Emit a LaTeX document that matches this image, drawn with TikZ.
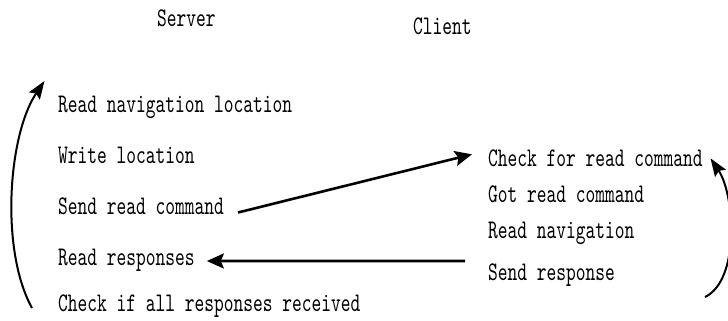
\documentclass[tikz,border=0pt]{standalone}
\usepackage{fontspec}
\newfontfamily\monofnt{lmmono10-regular.otf}[FakeStretch=0.69]
\usetikzlibrary{arrows.meta}
\tikzset{
  txt/.style={font=\monofnt\fontsize{27}{27}\selectfont, inner sep=0pt, anchor=base west},
  arr/.style={line width=2.6bp, -{Stealth[length=17bp,width=15bp,inset=3bp]}},
  loop/.style={line width=2bp, -{Stealth[length=18bp,width=13bp,inset=3bp]}}
}
\begin{document}
\begin{tikzpicture}[x=1bp,y=-1bp]
\useasboundingbox[fill=white] (0,0) rectangle (728,320);
% headers
\node[txt] (server) at (157,26) {Server};
\node[txt] (client) at (413,34) {Client};
% server column
\node[txt] (readnav)  at (58,112) {Read navigation location};
\node[txt] (writeloc) at (58,163) {Write location};
\node[txt] (sendcmd)  at (58,214) {Send read command};
\node[txt] (readresp) at (58,265) {Read responses};
\node[txt] (checkall) at (58,311) {Check if all responses received};
% client column
\node[txt] (checkcmd) at (488,166) {Check for read command};
\node[txt] (gotcmd)   at (488,202.5) {Got read command};
\node[txt] (readnavc) at (488,238.5) {Read navigation};
\node[txt] (sendresp) at (488,280) {Send response};
% connectors
\draw[arr] ([xshift=14bp,yshift=1.5bp]sendcmd.base east) -- ([xshift=-16bp,yshift=11.7bp]checkcmd.base west);
\draw[arr] ([xshift=-23bp,yshift=19bp]sendresp.base west) -- ([xshift=12bp,yshift=4bp]readresp.base east);
\draw[loop] ([xshift=-26bp,yshift=3bp]checkall.base west) .. controls (0,250) and (8,135) .. ([xshift=-13.5bp,yshift=31bp]readnav.base west);
\draw[loop] ([xshift=90bp,yshift=-17bp]sendresp.base east) .. controls (740,280) and (735,195) .. ([xshift=7.7bp,yshift=7.7bp]checkcmd.base east);
\end{tikzpicture}
\end{document}
